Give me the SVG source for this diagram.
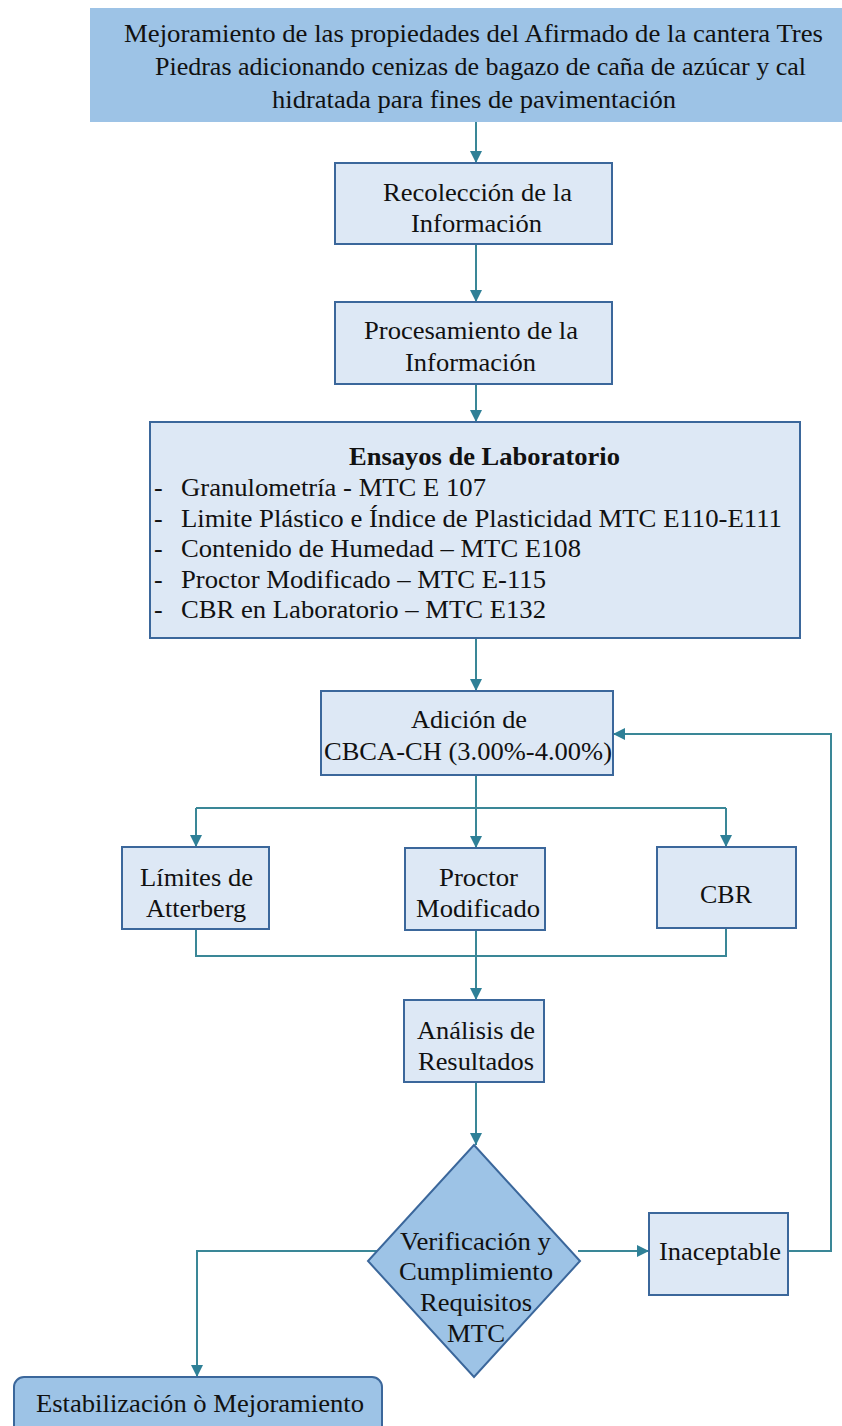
<svg xmlns="http://www.w3.org/2000/svg" width="842" height="1426" viewBox="0 0 842 1426" font-family="'Liberation Serif', Tinos, 'DejaVu Serif', 'Noto Serif', FreeSerif, serif">
<defs>
<style>
text{font-size:26px;fill:#111;}
.c{text-anchor:middle;}
.b{font-weight:bold;}
.box{fill:#dde8f5;stroke:#3b679b;stroke-width:2;}
.dark{fill:#9dc3e6;stroke:#3b679b;stroke-width:2;}
.ln{fill:none;stroke:#3a8797;stroke-width:2;}
</style>
<marker id="ah" markerUnits="userSpaceOnUse" markerWidth="12" markerHeight="12" refX="12" refY="6" orient="auto">
<path d="M0,0 L12,6 L0,12 z" fill="#2f8097"/>
</marker>
</defs>
<rect width="842" height="1426" fill="#ffffff"/>

<g id="connectors">
<path class="ln" d="M476,122 V163" marker-end="url(#ah)"/>
<path class="ln" d="M476,244 V302" marker-end="url(#ah)"/>
<path class="ln" d="M476,384 V422" marker-end="url(#ah)"/>
<path class="ln" d="M476,638 V691" marker-end="url(#ah)"/>
<path class="ln" d="M476,775 V848" marker-end="url(#ah)"/>
<path class="ln" d="M196,808 H726"/>
<path class="ln" d="M196,808 V847" marker-end="url(#ah)"/>
<path class="ln" d="M726,808 V847" marker-end="url(#ah)"/>
<path class="ln" d="M196,929 V956 H726 V928"/>
<path class="ln" d="M476,930 V1000" marker-end="url(#ah)"/>
<path class="ln" d="M476,1082 V1145" marker-end="url(#ah)"/>
<path class="ln" d="M578,1251 H649" marker-end="url(#ah)"/>
<path class="ln" d="M788,1251 H831 V734 H613" marker-end="url(#ah)"/>
<path class="ln" d="M377,1251 H197 V1377" marker-end="url(#ah)"/>
</g>

<g id="title">
<rect x="90" y="8" width="752" height="114" fill="#9dc3e6"/>
<text x="124" y="42" textLength="699" lengthAdjust="spacingAndGlyphs">Mejoramiento de las propiedades del Afirmado de la cantera Tres</text>
<text x="155" y="75" textLength="651" lengthAdjust="spacingAndGlyphs">Piedras adicionando cenizas de bagazo de caña de azúcar y cal</text>
<text x="272" y="108" textLength="404" lengthAdjust="spacingAndGlyphs">hidratada para fines de pavimentación</text>
</g>

<g id="recoleccion">
<rect class="box" x="335" y="163" width="277" height="81"/>
<text x="383" y="201" textLength="189" lengthAdjust="spacingAndGlyphs">Recolección de la</text>
<text x="411" y="232" textLength="131" lengthAdjust="spacingAndGlyphs">Información</text>
</g>

<g id="procesamiento">
<rect class="box" x="335" y="302" width="277" height="82"/>
<text x="364" y="339" textLength="214" lengthAdjust="spacingAndGlyphs">Procesamiento de la</text>
<text x="405" y="371" textLength="131" lengthAdjust="spacingAndGlyphs">Información</text>
</g>

<g id="ensayos">
<rect class="box" x="150" y="422" width="650" height="216"/>
<text class="b" x="349" y="465" textLength="271" lengthAdjust="spacingAndGlyphs">Ensayos de Laboratorio</text>
<text x="154" y="496">-</text><text x="181" y="496" textLength="305" lengthAdjust="spacingAndGlyphs">Granulometría - MTC E 107</text>
<text x="154" y="527">-</text><text x="181" y="527" textLength="601" lengthAdjust="spacingAndGlyphs">Limite Plástico e Índice de Plasticidad MTC E110-E111</text>
<text x="154" y="557">-</text><text x="181" y="557" textLength="400" lengthAdjust="spacingAndGlyphs">Contenido de Humedad – MTC E108</text>
<text x="154" y="588">-</text><text x="181" y="588" textLength="365" lengthAdjust="spacingAndGlyphs">Proctor Modificado – MTC E-115</text>
<text x="154" y="618">-</text><text x="181" y="618" textLength="365" lengthAdjust="spacingAndGlyphs">CBR en Laboratorio – MTC E132</text>
</g>

<g id="adicion">
<rect class="box" x="321" y="691" width="292" height="84"/>
<text x="411" y="728" textLength="116" lengthAdjust="spacingAndGlyphs">Adición de</text>
<text x="324" y="760" textLength="288" lengthAdjust="spacingAndGlyphs">CBCA-CH (3.00%-4.00%)</text>
</g>

<g id="limites">
<rect class="box" x="122" y="847" width="147" height="82"/>
<text x="140" y="886" textLength="113" lengthAdjust="spacingAndGlyphs">Límites de</text>
<text x="146" y="917" textLength="100" lengthAdjust="spacingAndGlyphs">Atterberg</text>
</g>

<g id="proctor">
<rect class="box" x="405" y="848" width="140" height="82"/>
<text x="439" y="886" textLength="79" lengthAdjust="spacingAndGlyphs">Proctor</text>
<text x="416" y="917" textLength="124" lengthAdjust="spacingAndGlyphs">Modificado</text>
</g>

<g id="cbr">
<rect class="box" x="657" y="847" width="139" height="81"/>
<text x="700" y="903" textLength="52" lengthAdjust="spacingAndGlyphs">CBR</text>
</g>

<g id="analisis">
<rect class="box" x="404" y="1000" width="140" height="82"/>
<text x="417" y="1039" textLength="118" lengthAdjust="spacingAndGlyphs">Análisis de</text>
<text x="418" y="1070" textLength="116" lengthAdjust="spacingAndGlyphs">Resultados</text>
</g>

<g id="verificacion">
<polygon class="dark" points="474,1145 580,1261 474,1377 368,1261"/>
<text x="400" y="1250" textLength="151" lengthAdjust="spacingAndGlyphs">Verificación y</text>
<text x="399" y="1280" textLength="154" lengthAdjust="spacingAndGlyphs">Cumplimiento</text>
<text x="420" y="1311" textLength="112" lengthAdjust="spacingAndGlyphs">Requisitos</text>
<text x="447" y="1342" textLength="58" lengthAdjust="spacingAndGlyphs">MTC</text>
</g>

<g id="inaceptable">
<rect class="box" x="649" y="1213" width="139" height="82"/>
<text x="659" y="1260" textLength="122" lengthAdjust="spacingAndGlyphs">Inaceptable</text>
</g>

<g id="estabilizacion">
<rect class="dark" x="14" y="1377" width="368" height="70" rx="10"/>
<text x="36" y="1412" textLength="328" lengthAdjust="spacingAndGlyphs">Estabilización ò Mejoramiento</text>
</g>
</svg>
